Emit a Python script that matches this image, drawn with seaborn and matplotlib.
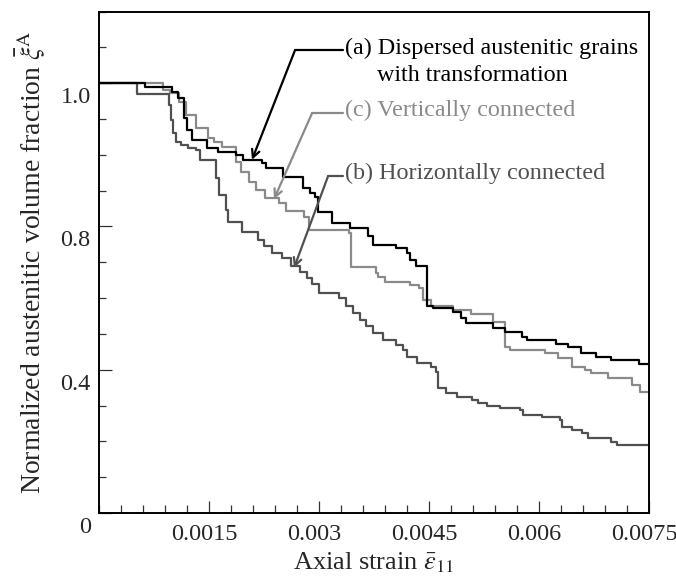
import numpy as np
import pandas as pd
import matplotlib
matplotlib.use("Agg")
import matplotlib.pyplot as plt
import matplotlib.transforms as mtransforms
from matplotlib.ticker import MultipleLocator, FixedLocator
import seaborn as sns

# ---------------- data ----------------
a_x = [0.0, 0.000627, 0.000995, 0.001077, 0.001159, 0.0012, 0.001268, 0.001473,
       0.001623, 0.001868, 0.001964, 0.002223, 0.002277, 0.002509, 0.002782,
       0.002877, 0.002945, 0.002986, 0.003177, 0.003423, 0.003668, 0.003736,
       0.00405, 0.0042, 0.004241, 0.004323, 0.004473, 0.004555, 0.004827,
       0.004936, 0.005005, 0.005373, 0.005536, 0.005768, 0.005836, 0.006232,
       0.006395, 0.006573, 0.006777, 0.006982, 0.007364, 0.0075]
a_y = [1.0, 0.994, 0.987, 0.979, 0.951, 0.934, 0.920, 0.909, 0.904, 0.900,
       0.893, 0.888, 0.881, 0.869, 0.853, 0.847, 0.841, 0.820, 0.805, 0.798,
       0.787, 0.774, 0.770, 0.763, 0.753, 0.745, 0.689, 0.686, 0.680, 0.672,
       0.665, 0.658, 0.653, 0.646, 0.641, 0.636, 0.632, 0.623, 0.618, 0.614,
       0.608, 0.608]

b_x = [0.0, 0.000518, 0.000955, 0.000982, 0.001009, 0.00105, 0.001118, 0.001214,
       0.001323, 0.001377, 0.001595, 0.001636, 0.001732, 0.001759, 0.00195,
       0.002168, 0.00225, 0.002359, 0.002495, 0.002618, 0.002741, 0.002836,
       0.002905, 0.003, 0.003273, 0.003368, 0.003464, 0.003559, 0.003641,
       0.003736, 0.003873, 0.00405, 0.004145, 0.0042, 0.004336, 0.004527,
       0.004595, 0.004623, 0.004732, 0.004882, 0.005086, 0.005168, 0.005291,
       0.005468, 0.005741, 0.005782, 0.006041, 0.006286, 0.006314, 0.00645,
       0.006586, 0.006668, 0.006982, 0.007064, 0.0075]
b_y = [1.0, 0.985, 0.969, 0.948, 0.930, 0.918, 0.913, 0.909, 0.907, 0.893,
       0.867, 0.844, 0.823, 0.806, 0.792, 0.781, 0.773, 0.763, 0.756, 0.745,
       0.736, 0.728, 0.720, 0.707, 0.700, 0.689, 0.679, 0.669, 0.661, 0.651,
       0.641, 0.634, 0.627, 0.618, 0.609, 0.604, 0.597, 0.574, 0.567, 0.562,
       0.558, 0.553, 0.549, 0.547, 0.544, 0.537, 0.534, 0.530, 0.520, 0.516,
       0.512, 0.505, 0.499, 0.495, 0.495]

c_x = [0.0, 0.000873, 0.000968, 0.001091, 0.001186, 0.001323, 0.001486, 0.001568,
       0.001677, 0.001868, 0.001936, 0.002045, 0.002141, 0.002264, 0.002455,
       0.00255, 0.002795, 0.002864, 0.003409, 0.003436, 0.003777, 0.003805,
       0.0039, 0.004241, 0.004364, 0.004418, 0.004527, 0.004827, 0.005073,
       0.005373, 0.005536, 0.005605, 0.006082, 0.006259, 0.00645, 0.006627,
       0.006709, 0.006941, 0.007268, 0.007377, 0.0075]
c_y = [1.0, 0.990, 0.986, 0.973, 0.955, 0.937, 0.923, 0.918, 0.911, 0.890,
       0.876, 0.862, 0.851, 0.840, 0.833, 0.821, 0.813, 0.795, 0.791, 0.743,
       0.735, 0.729, 0.722, 0.718, 0.714, 0.697, 0.689, 0.683, 0.678, 0.667,
       0.632, 0.627, 0.623, 0.616, 0.604, 0.600, 0.595, 0.588, 0.579, 0.569,
       0.569]

series_names = ["(a)", "(b)", "(c)"]
series_colors = {"(a)": "#000000", "(b)": "#505050", "(c)": "#8a8a8a"}

x_ticks = [0.0015, 0.003, 0.0045, 0.006, 0.0075]
x_tick_labels = ["0.0015", "0.003", "0.0045", "0.006", "0.0075"]
y_ticks = [0.4, 0.6, 0.8, 1.0]
y_tick_labels = ["0", "0.4", "0.8", "1.0"]

# ---------------- figure ----------------
sns.set_theme(style="white")
plt.rcParams["font.family"] = ["Liberation Serif", "DejaVu Serif"]
plt.rcParams["mathtext.fontset"] = "stix"

fig = plt.figure(figsize=(6.76, 5.83), dpi=100)
ax = fig.add_axes([99 / 676, 70 / 583, 550 / 676, 501.5 / 583])

df = pd.concat([
    pd.DataFrame({"x": a_x, "y": a_y, "s": "(a)"}),
    pd.DataFrame({"x": b_x, "y": b_y, "s": "(b)"}),
    pd.DataFrame({"x": c_x, "y": c_y, "s": "(c)"}),
])
sns.lineplot(data=df, x="x", y="y", hue="s", hue_order=["(c)", "(b)", "(a)"],
             palette=series_colors, estimator=None, sort=False,
             drawstyle="steps-post", linewidth=1.6, legend=False, ax=ax)

ax.set_xlim(0, 0.0075)
ax.set_ylim(0.4, 1.1)

for sp in ax.spines.values():
    sp.set_linewidth(1.4)
    sp.set_color("black")

ax.xaxis.set_major_locator(FixedLocator(x_ticks))
ax.set_xticklabels(x_tick_labels)
ax.xaxis.set_minor_locator(MultipleLocator(0.0003))
ax.yaxis.set_major_locator(FixedLocator(y_ticks))
ax.set_yticklabels(y_tick_labels)
ax.yaxis.set_minor_locator(MultipleLocator(0.05))

tick_fs = 17.5
ax.tick_params(axis="x", which="major", direction="in", length=9, width=0.9,
               color="#333333", labelsize=tick_fs, pad=8, bottom=True, top=False)
ax.tick_params(axis="x", which="minor", direction="in", length=5.5, width=0.9,
               color="#333333", bottom=True, top=False)
ax.tick_params(axis="y", which="major", direction="in", length=9.5, width=0.9,
               color="#333333", labelsize=tick_fs, pad=6, left=True, right=False)
ax.tick_params(axis="y", which="minor", direction="in", length=5, width=0.9,
               color="#333333", left=True, right=False)

# small offsets of tick labels as in the reference
for lbl in ax.get_yticklabels():
    lbl.set_transform(lbl.get_transform() +
                      mtransforms.ScaledTranslation(0, -12 / 100, fig.dpi_scale_trans))
for lbl in ax.get_xticklabels():
    lbl.set_transform(lbl.get_transform() +
                      mtransforms.ScaledTranslation(-5 / 100, 0, fig.dpi_scale_trans))

ax.set_xlabel(r"Axial strain $\bar{\varepsilon}_{\mathrm{11}}$", fontsize=19, labelpad=4)
ax.set_ylabel(r"Normalized austenitic volume fraction $\bar{\xi}^{\mathrm{A}}$",
              fontsize=20, labelpad=10)

# ---------------- annotations ----------------
ann_fs = 17.4
arrow_kw = dict(arrowstyle="->", lw=1.6, mutation_scale=14, shrinkA=0, shrinkB=0)

# (a)
ax.plot([0.002673, 0.003327], [1.046, 1.046], color="#000000", lw=1.6)
ax.annotate("", xy=(0.002086, 0.893), xytext=(0.002673, 1.046),
            arrowprops=dict(color="#000000", **arrow_kw))
ax.text(0.003355, 1.049, "(a) Dispersed austenitic grains", fontsize=ann_fs,
        color="#000000", ha="left", va="center")
ax.text(0.003791, 1.011, "with transformation", fontsize=ann_fs,
        color="#000000", ha="left", va="center")

# (c)
ax.plot([0.002905, 0.003327], [0.958, 0.958], color="#8a8a8a", lw=1.6)
ax.annotate("", xy=(0.002386, 0.838), xytext=(0.002905, 0.958),
            arrowprops=dict(color="#8a8a8a", **arrow_kw))
ax.text(0.003355, 0.962, "(c) Vertically connected", fontsize=ann_fs,
        color="#8a8a8a", ha="left", va="center")

# (b)
ax.plot([0.003123, 0.003327], [0.870, 0.870], color="#505050", lw=1.6)
ax.annotate("", xy=(0.002659, 0.742), xytext=(0.003123, 0.870),
            arrowprops=dict(color="#505050", **arrow_kw))
ax.text(0.003355, 0.874, "(b) Horizontally connected", fontsize=ann_fs,
        color="#505050", ha="left", va="center")

fig.savefig("out.png", dpi=100, facecolor="white")
